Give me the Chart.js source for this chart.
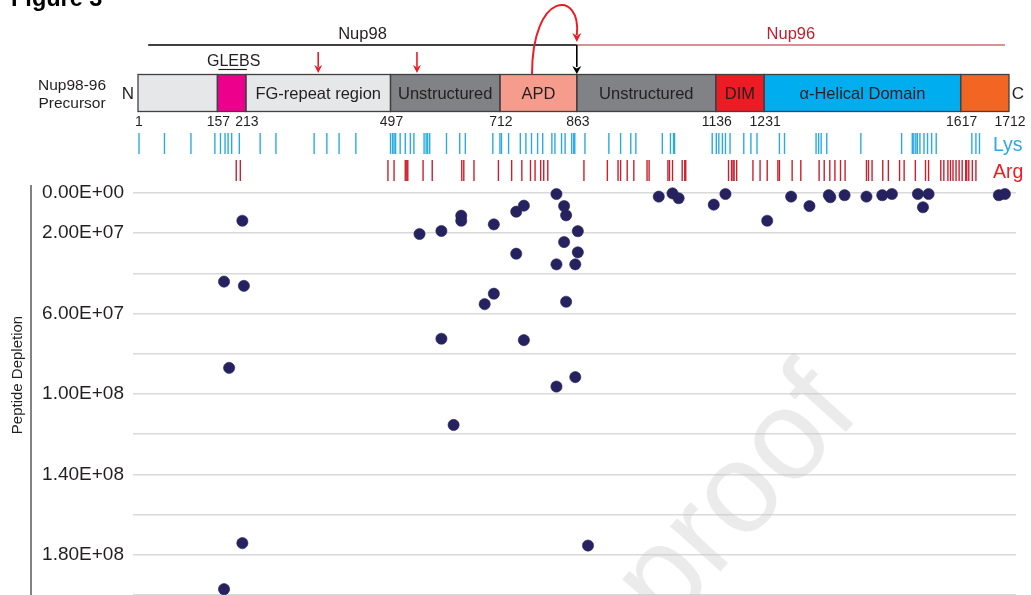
<!DOCTYPE html>
<html>
<head>
<meta charset="utf-8">
<script src="https://cdn.jsdelivr.net/npm/chart.js@4.4.1/dist/chart.umd.min.js"></script>
<style>
  html, body { margin: 0; padding: 0; background: #ffffff; overflow: hidden; }
  #wrap { position: relative; width: 1031px; height: 595px; }
</style>
</head>
<body>
<div id="wrap"><canvas id="c" width="1031" height="595"></canvas></div>
<script>
// ---- Nup98-96 precursor: domain map (residue numbers) ----
const domainStart = [1, 157, 213, 497, 712, 863, 1136, 1231, 1617];
const domainEnd   = [157, 213, 497, 712, 863, 1136, 1231, 1617, 1712];
const domainName  = ['', '', 'FG-repeat region', 'Unstructured', 'APD', 'Unstructured', 'DIM', 'α-Helical Domain', ''];
const domainColor = ['#e6e7e8', '#ec008c', '#e6e7e8', '#808285', '#f69c8c', '#808285', '#ed1c24', '#00aeef', '#f26522'];
const boundaryLabels = [1, 157, 213, 497, 712, 863, 1136, 1231, 1617, 1712];

// GLEBS motif, cleavage arrows, products
const glebsRange = [157, 213];
const cleavageSites = [355, 549];
const autoCleavage = 863;
const apdArrowStart = 775;
const nup98Range = [21, 863];
const nup96Range = [863, 1704];

// Lysine and arginine positions
const lysPositions = [3, 53, 105, 152, 163, 172, 178, 185, 200, 241, 272, 347, 372, 396, 429,
  497, 501, 504, 507, 516, 526, 536, 543, 563, 567, 570, 574, 607, 633, 644, 698, 712, 715, 729,
  752, 763, 774, 786, 796, 814, 820, 833, 840, 853, 857, 859, 879, 926, 949, 969, 979, 1031, 1047,
  1053, 1055, 1129, 1137, 1142, 1149, 1155, 1164, 1191, 1205, 1217, 1261, 1271, 1333, 1338, 1343,
  1354, 1421, 1501, 1522, 1525, 1529, 1532, 1537, 1545, 1552, 1560, 1569, 1639, 1647, 1654];
const argPositions = [194, 202, 492, 504, 526, 529, 531, 561, 579, 637, 641, 661, 709, 735, 755,
  772, 781, 792, 798, 806, 877, 923, 944, 949, 962, 975, 1001, 1005, 1042, 1045, 1051, 1070, 1075,
  1077, 1161, 1167, 1170, 1172, 1177, 1209, 1223, 1237, 1258, 1261, 1286, 1303, 1339, 1349, 1360,
  1370, 1381, 1390, 1432, 1436, 1443, 1464, 1475, 1497, 1506, 1528, 1548, 1554, 1578, 1584, 1592,
  1597, 1602, 1608, 1614, 1620, 1627, 1629, 1633, 1640, 1647];

// ---- Peptide depletion per peptide position ----
const peptidePosition = [170, 170, 180, 206, 206, 209, 554, 597, 597, 621, 636, 636, 682, 700, 700,
  744, 744, 759, 759, 823, 823, 823, 838, 838, 842, 842, 860, 860, 865, 865, 885,
  1024, 1051, 1063, 1132, 1155, 1237, 1284, 1320, 1358, 1361, 1389, 1432, 1463, 1482,
  1533, 1543, 1554, 1692, 1704];
const peptideDepletion = [4.41e7, 1.971e8, 8.70e7, 1.38e7, 1.742e8, 4.62e7, 2.04e7, 1.89e7, 7.25e7,
  1.154e8, 1.13e7, 1.38e7, 5.53e7, 1.56e7, 5.01e7, 9.3e6, 3.02e7, 6.3e6, 7.32e7, 5e5, 3.55e7,
  9.63e7, 6.5e6, 2.44e7, 1.11e7, 5.41e7, 3.55e7, 9.16e7, 1.90e7, 2.95e7, 1.754e8,
  1.8e6, 2e5, 2.6e6, 5.8e6, 5e5, 1.38e7, 1.8e6, 6.5e6, 1.1e6, 2.1e6, 1.1e6, 1.8e6, 1.1e6, 5e5,
  5e5, 7.1e6, 5e5, 1.1e6, 5e5];

// Y axis: ticks every 2E+07, labels on a subset
const yTickStep = 2e7;
const yMax = 2e8;
const yLabelled = [0, 2e7, 6e7, 1e8, 1.4e8, 1.8e8];

const FONT = '"Liberation Sans", Arial, Helvetica, sans-serif';
const INK = '#231f20';

function sci(v) {
  if (v === 0) return '0.00E+00';
  const e = Math.floor(Math.log10(v) + 1e-9);
  const m = v / Math.pow(10, e);
  return m.toFixed(2) + 'E+' + String(e).padStart(2, '0');
}

function arrowHead(ctx, x, tipY, w, h, color) {
  ctx.fillStyle = color;
  ctx.beginPath();
  ctx.moveTo(x, tipY);
  ctx.lineTo(x - w / 2, tipY - h);
  ctx.lineTo(x, tipY - h * 0.7);
  ctx.lineTo(x + w / 2, tipY - h);
  ctx.closePath();
  ctx.fill();
}

const precursorMap = {
  id: 'precursorMap',
  beforeDatasetsDraw(chart) {
    // faint diagonal watermark
    const ctx = chart.ctx;
    ctx.save();
    ctx.translate(862, 414);
    ctx.rotate(-48 * Math.PI / 180);
    ctx.font = '128px ' + FONT;
    ctx.fillStyle = 'rgba(200,200,200,0.36)';
    ctx.textAlign = 'right';
    ctx.textBaseline = 'alphabetic';
    ctx.fillText('Journal Pre-proof', 0, 0);
    ctx.restore();
  },
  afterDraw(chart) {
    const ctx = chart.ctx;
    const xs = chart.scales.x;
    const px = r => xs.getPixelForValue(r);
    ctx.save();

    // figure heading
    ctx.fillStyle = '#000';
    ctx.font = 'bold 23.5px ' + FONT;
    ctx.textAlign = 'left';
    ctx.textBaseline = 'alphabetic';
    ctx.fillText('Figure 3', 11, 6);

    // y axis line and title
    ctx.strokeStyle = '#58595b';
    ctx.lineWidth = 1.5;
    ctx.beginPath();
    ctx.moveTo(31, 185);
    ctx.lineTo(31, 595);
    ctx.stroke();
    ctx.save();
    ctx.translate(18, 375);
    ctx.rotate(-Math.PI / 2);
    ctx.font = '15px ' + FONT;
    ctx.fillStyle = INK;
    ctx.textAlign = 'center';
    ctx.textBaseline = 'middle';
    ctx.fillText('Peptide Depletion', 0, 0);
    ctx.restore();

    // product lines
    const lineY = 45;
    ctx.lineWidth = 1.4;
    ctx.strokeStyle = '#000';
    ctx.beginPath();
    ctx.moveTo(px(nup98Range[0]), lineY);
    ctx.lineTo(px(nup98Range[1]), lineY);
    ctx.stroke();
    ctx.lineWidth = 1.1;
    ctx.strokeStyle = '#be1e2d';
    ctx.beginPath();
    ctx.moveTo(px(nup96Range[0]), lineY);
    ctx.lineTo(px(nup96Range[1]), lineY);
    ctx.stroke();

    ctx.font = '16.5px ' + FONT;
    ctx.textAlign = 'center';
    ctx.fillStyle = INK;
    ctx.fillText('Nup98', px((nup98Range[0] + nup98Range[1]) / 2), 39);
    ctx.fillStyle = '#be1e2d';
    ctx.fillText('Nup96', px((nup96Range[0] + nup96Range[1]) / 2), 39);

    // GLEBS label with underline
    ctx.fillStyle = INK;
    ctx.font = '16px ' + FONT;
    ctx.fillText('GLEBS', px((glebsRange[0] + glebsRange[1]) / 2) + 2, 66);
    ctx.strokeStyle = INK;
    ctx.lineWidth = 1.2;
    ctx.beginPath();
    ctx.moveTo(px(glebsRange[0]) + 1, 69.5);
    ctx.lineTo(px(glebsRange[1]) + 1, 69.5);
    ctx.stroke();

    // domain bar
    const barTop = 74.5, barBot = 111.5;
    for (let i = 0; i < domainStart.length; i++) {
      const x0 = px(domainStart[i]), x1 = px(domainEnd[i]);
      ctx.fillStyle = domainColor[i];
      ctx.fillRect(x0, barTop, x1 - x0, barBot - barTop);
    }
    ctx.strokeStyle = '#414042';
    ctx.lineWidth = 1.3;
    for (let i = 0; i < domainStart.length; i++) {
      const x0 = px(domainStart[i]), x1 = px(domainEnd[i]);
      ctx.strokeRect(x0, barTop, x1 - x0, barBot - barTop);
    }
    ctx.font = '16.5px ' + FONT;
    ctx.fillStyle = INK;
    ctx.textAlign = 'center';
    for (let i = 0; i < domainStart.length; i++) {
      if (!domainName[i]) continue;
      ctx.fillText(domainName[i], (px(domainStart[i]) + px(domainEnd[i])) / 2, 99);
    }

    // N / C termini and row label
    ctx.font = '17px ' + FONT;
    ctx.fillText('N', 128, 99);
    ctx.fillText('C', 1018, 99);
    ctx.font = '15.5px ' + FONT;
    ctx.fillText('Nup98-96', 72, 90);
    ctx.fillText('Precursor', 72, 108);

    // residue numbers at boundaries
    ctx.font = '14px ' + FONT;
    boundaryLabels.forEach(r => ctx.fillText(String(r), px(r) + 1, 126));

    // cleavage arrows
    ctx.strokeStyle = '#ed1c24';
    ctx.lineWidth = 1.6;
    cleavageSites.forEach(r => {
      const x = px(r);
      ctx.beginPath();
      ctx.moveTo(x, 52);
      ctx.lineTo(x, 67);
      ctx.stroke();
      arrowHead(ctx, x, 73, 8, 8, '#ed1c24');
    });
    const xa = px(autoCleavage);
    ctx.strokeStyle = '#000';
    ctx.beginPath();
    ctx.moveTo(xa, lineY);
    ctx.lineTo(xa, 67);
    ctx.stroke();
    arrowHead(ctx, xa, 74, 9, 8, '#000');

    // curved arrow from APD to the cleavage point
    const xs0 = px(apdArrowStart);
    ctx.strokeStyle = '#ed1c24';
    ctx.lineWidth = 2;
    ctx.beginPath();
    ctx.moveTo(xs0, barTop);
    ctx.bezierCurveTo(xs0, -10, xa + 5, -10, xa, 35);
    ctx.stroke();
    arrowHead(ctx, xa, 42, 9, 9, '#ed1c24');

    // Lys and Arg tick rows
    ctx.lineWidth = 1.4;
    ctx.strokeStyle = '#29abe2';
    lysPositions.forEach(r => {
      const x = px(r);
      ctx.beginPath(); ctx.moveTo(x, 133); ctx.lineTo(x, 154); ctx.stroke();
    });
    ctx.strokeStyle = '#c9202f';
    argPositions.forEach(r => {
      const x = px(r);
      ctx.beginPath(); ctx.moveTo(x, 160); ctx.lineTo(x, 181); ctx.stroke();
    });
    ctx.font = '19.5px ' + FONT;
    ctx.textAlign = 'left';
    ctx.fillStyle = '#29abe2';
    ctx.fillText('Lys', 993, 151);
    ctx.fillStyle = '#ed1c24';
    ctx.fillText('Arg', 993, 178);

    ctx.restore();
  }
};

const points = peptidePosition.map((p, i) => ({ x: p, y: peptideDepletion[i] }));

new Chart(document.getElementById('c'), {
  type: 'scatter',
  data: {
    datasets: [{
      data: points,
      backgroundColor: '#25225f',
      borderColor: '#25225f',
      borderWidth: 0.6,
      pointRadius: 5.6,
      pointHoverRadius: 5.6,
      clip: false
    }]
  },
  options: {
    responsive: false,
    animation: false,
    devicePixelRatio: 1,
    layout: { autoPadding: false, padding: { left: 42, top: 193, right: 15, bottom: 0 } },
    plugins: { legend: { display: false }, tooltip: { enabled: false } },
    scales: {
      x: {
        type: 'linear',
        display: false,
        min: -8.82,
        max: 1725.75
      },
      y: {
        type: 'linear',
        reverse: true,
        min: 0,
        max: yMax,
        border: { display: false },
        grid: { color: '#d9d9d9', lineWidth: 1.6, drawTicks: false },
        ticks: {
          stepSize: yTickStep,
          autoSkip: false,
          padding: 9,
          color: INK,
          font: { family: FONT, size: 19 },
          callback: v => (yLabelled.some(t => Math.abs(t - v) < 1) ? sci(v) : '')
        },
        afterFit(scale) {
          scale.width = 91;
          scale.paddingTop = 0;
          scale.paddingBottom = 0;
        }
      }
    }
  },
  plugins: [precursorMap]
});
</script>
</body>
</html>
